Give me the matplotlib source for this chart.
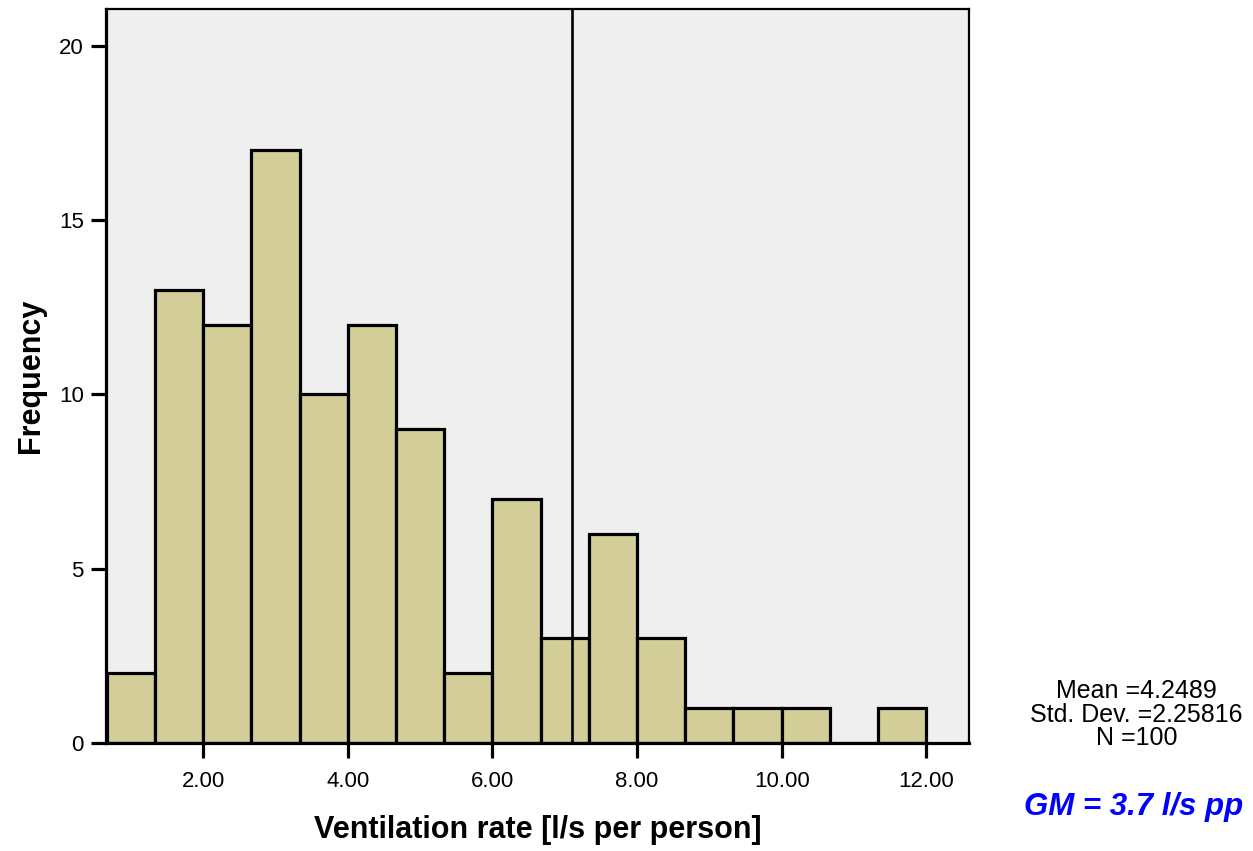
import numpy as np
import matplotlib.pyplot as plt

plt.rcParams['font.family'] = ['Liberation Sans', 'DejaVu Sans']

# histogram of ventilation rates, bins of 2/3 l/s
bin_edges = np.linspace(2 / 3, 12, 18)
counts = [2, 13, 12, 17, 10, 12, 9, 2, 7, 3, 6, 3, 1, 1, 1, 0, 1]
ref_line = 7.1
x_ticks = [2, 4, 6, 8, 10, 12]
y_ticks = [0, 5, 10, 15, 20]
stats_text = "Mean =4.2489\nStd. Dev. =2.25816\nN =100"
gm_text = "GM = 3.7 l/s pp"

fig = plt.figure(figsize=(12.53, 8.51), dpi=100)
ax = fig.add_axes([0.0846, 0.1269, 0.6887, 0.8625])
ax.set_facecolor('#efefef')

ax.bar(bin_edges[:-1], counts, width=np.diff(bin_edges), align='edge',
       color='#d3ce98', edgecolor='black', linewidth=2.3, zorder=2)
ax.axvline(ref_line, color='black', linewidth=1.9, zorder=3)

ax.set_xlim(0.655, 12.59)
ax.set_ylim(0, 21.05)
ax.set_xticks(x_ticks)
ax.set_xticklabels([f"{t:.2f}" for t in x_ticks])
ax.set_yticks(y_ticks)

for side in ['left', 'bottom']:
    ax.spines[side].set_linewidth(2.3)
for side in ['top', 'right']:
    ax.spines[side].set_linewidth(1.6)
ax.spines['left'].set_zorder(4)
ax.spines['bottom'].set_zorder(4)

ax.tick_params(axis='both', direction='out', length=11, width=2.3,
               labelsize=16, colors='black')
ax.tick_params(axis='x', pad=9)
ax.tick_params(axis='y', pad=5)

ax.set_xlabel("Ventilation rate [l/s per person]", fontsize=22,
              fontweight='bold', labelpad=17)
ax.set_ylabel("Frequency", fontsize=22, fontweight='bold', labelpad=9)

fig.text(0.907, 0.16, stats_text, ha='center', va='center', fontsize=18,
         linespacing=0.98)
fig.text(0.992, 0.052, gm_text, ha='right', va='center', fontsize=22.5,
         fontweight='bold', fontstyle='italic', color='#0000ff')

fig.savefig("out.png", dpi=100)
